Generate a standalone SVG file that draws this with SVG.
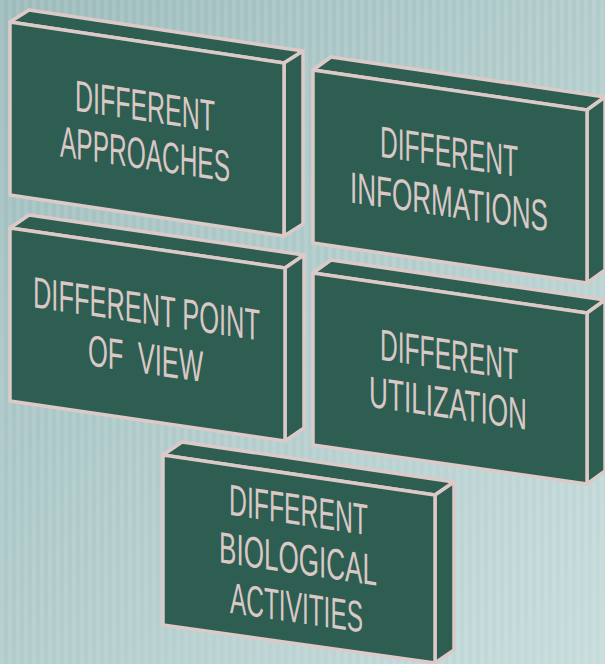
<svg xmlns="http://www.w3.org/2000/svg" width="605" height="664" viewBox="0 0 605 664">
<defs>
<linearGradient id="bg" x1="0" y1="0" x2="1" y2="1">
<stop offset="0" stop-color="#9dbbbb"/>
<stop offset="1" stop-color="#c6dcdc"/>
</linearGradient>
<pattern id="stripes" width="8" height="10" patternUnits="userSpaceOnUse">
<rect x="0" y="0" width="4" height="10" fill="#ffffff" fill-opacity="0.09"/>
</pattern>
<style>
.f{fill:#2e5e51;stroke:#dccac8;stroke-width:3.5;stroke-linejoin:round}
.t{font-family:"Liberation Sans Narrow","Liberation Sans",Arial,sans-serif;font-size:44px;fill:#d9c8c6;text-anchor:middle;white-space:pre}
</style>
</defs>
<rect width="605" height="664" fill="url(#bg)"/>
<rect width="605" height="664" fill="url(#stripes)"/>

<g id="approaches">
<polygon class="f" points="10,22 29,10 303,51 284,63"/>
<polygon class="f" points="284,63 303,51 303,224 284,236"/>
<polygon class="f" points="10,22 284,63 284,236 10,195"/>
<g transform="translate(10,22) skewY(8.5)">
<text class="t" x="135" y="79" textLength="140" lengthAdjust="spacingAndGlyphs">DIFFERENT</text>
<text class="t" x="135" y="127" textLength="170" lengthAdjust="spacingAndGlyphs">APPROACHES</text>
</g>
</g>

<g id="informations">
<polygon class="f" points="313,70 331,57 605,97 587,110"/>
<polygon class="f" points="587,110 605,97 605,270 587,283"/>
<polygon class="f" points="313,70 587,110 587,283 313,243"/>
<g transform="translate(313,70) skewY(8.3)">
<text class="t" x="136" y="77" textLength="138" lengthAdjust="spacingAndGlyphs">DIFFERENT</text>
<text class="t" x="136" y="127" textLength="198" lengthAdjust="spacingAndGlyphs">INFORMATIONS</text>
</g>
</g>

<g id="pointofview">
<polygon class="f" points="10,228 29,215 304,255 285,268"/>
<polygon class="f" points="285,268 304,255 304,428 285,441"/>
<polygon class="f" points="10,228 285,268 285,441 10,401"/>
<g transform="translate(10,228) skewY(8.3)">
<text class="t" x="136.5" y="76" textLength="227" lengthAdjust="spacingAndGlyphs">DIFFERENT POINT</text>
<text class="t" x="135.5" y="126" textLength="115" lengthAdjust="spacingAndGlyphs">OF  VIEW</text>
</g>
</g>

<g id="utilization">
<polygon class="f" points="313,273 331,260 605,300 587,313"/>
<polygon class="f" points="587,313 605,300 605,471 587,484"/>
<polygon class="f" points="313,273 587,313 587,484 313,445"/>
<g transform="translate(313,273) skewY(8.3)">
<text class="t" x="136" y="77" textLength="138" lengthAdjust="spacingAndGlyphs">DIFFERENT</text>
<text class="t" x="135" y="125.5" textLength="158" lengthAdjust="spacingAndGlyphs">UTILIZATION</text>
</g>
</g>

<g id="biological">
<polygon class="f" points="163,455 182,442 454,482 435,495"/>
<polygon class="f" points="435,495 454,482 454,650 435,663"/>
<polygon class="f" points="163,455 435,495 435,663 163,625"/>
<g transform="translate(163,455) skewY(8.4)">
<text class="t" x="135.5" y="50" textLength="139" lengthAdjust="spacingAndGlyphs">DIFFERENT</text>
<text class="t" x="135" y="99" textLength="158" lengthAdjust="spacingAndGlyphs">BIOLOGICAL</text>
<text class="t" x="133.5" y="148" textLength="133" lengthAdjust="spacingAndGlyphs">ACTIVITIES</text>
</g>
</g>

<g id="connectors"/>
</svg>
